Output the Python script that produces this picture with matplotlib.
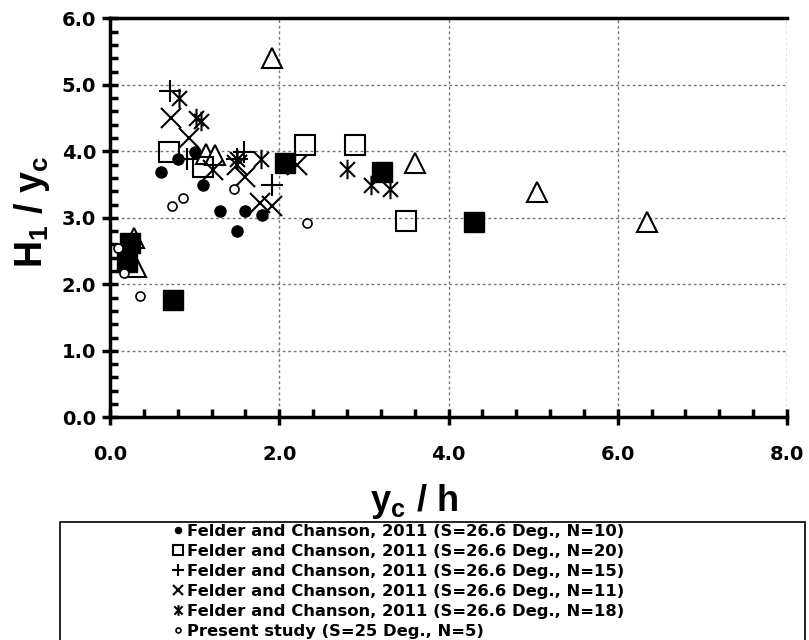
import matplotlib
matplotlib.use('Agg')
import numpy as np
from matplotlib import pyplot as plt
from matplotlib.path import Path
from matplotlib.patches import Rectangle
from matplotlib.ticker import MultipleLocator, FormatStrFormatter

# Felder and Chanson 2011, N=10 (filled circles)
x_n10 = [0.60, 0.80, 1.00, 1.10, 1.30, 1.50, 1.60, 1.80]
y_n10 = [3.69, 3.89, 3.99, 3.50, 3.10, 2.80, 3.10, 3.04]
# N=20 (open squares)
x_n20 = [0.70, 1.10, 2.30, 2.90, 3.50]
y_n20 = [3.99, 3.77, 4.09, 4.09, 2.95]
# N=15 (plus)
x_n15 = [0.71, 0.91, 1.50, 1.58, 1.91]
y_n15 = [4.90, 3.89, 3.89, 3.99, 3.49]
# N=11 (x)
x_n11 = [0.72, 0.93, 1.22, 1.50, 1.60, 1.77, 1.91, 2.21]
y_n11 = [4.50, 4.20, 3.72, 3.79, 3.62, 3.22, 3.17, 3.79]
# N=18 (asterisk)
x_n18 = [0.82, 1.02, 1.08, 1.50, 1.79, 2.80, 3.09, 3.31]
y_n18 = [4.80, 4.50, 4.45, 3.89, 3.89, 3.74, 3.49, 3.44]
# present study (open circles)
x_ps = [0.10, 0.16, 0.35, 0.73, 0.86, 1.46, 2.33]
y_ps = [2.54, 2.17, 1.82, 3.17, 3.30, 3.44, 2.92]
# series whose legend entries are cut off
x_tri = [0.28, 0.31, 1.14, 1.24, 1.92, 3.60, 5.04, 6.34]
y_tri = [2.69, 2.26, 3.96, 3.94, 5.40, 3.82, 3.39, 2.94]
x_fsq = [0.24, 0.20, 0.74, 2.07, 3.22, 4.30]
y_fsq = [2.62, 2.34, 1.76, 3.83, 3.69, 2.93]

labels = ['Felder and Chanson, 2011 (S=26.6 Deg., N=10)',
          'Felder and Chanson, 2011 (S=26.6 Deg., N=20)',
          'Felder and Chanson, 2011 (S=26.6 Deg., N=15)',
          'Felder and Chanson, 2011 (S=26.6 Deg., N=11)',
          'Felder and Chanson, 2011 (S=26.6 Deg., N=18)',
          'Present study (S=25 Deg., N=5)']

plt.rcParams['font.family'] = ['DejaVu Sans']
plt.rcParams['font.weight'] = 'bold'
plt.rcParams['mathtext.fontset'] = 'custom'
plt.rcParams['mathtext.rm'] = 'Liberation Sans:bold'
plt.rcParams['mathtext.bf'] = 'Liberation Sans:bold'
plt.rcParams['mathtext.it'] = 'Liberation Sans:bold'

# x with a vertical bar, like the spreadsheet asterisk
star = Path([(-1, -1), (1, 1), (-1, 1), (1, -1), (0, -1.3), (0, 1.3)],
            [Path.MOVETO, Path.LINETO, Path.MOVETO, Path.LINETO, Path.MOVETO, Path.LINETO])

fig = plt.figure(figsize=(8.09, 6.4), dpi=100)
ax = fig.add_axes([110 / 809, 1 - 417.3 / 640, 677 / 809, 399 / 640])

ax.plot(x_tri, y_tri, ls='none', marker='^', ms=14, mfc='white', mec='black', mew=1.5, zorder=3)
ax.plot(x_fsq, y_fsq, ls='none', marker='s', ms=14, mfc='black', mec='black', zorder=3)
h1, = ax.plot(x_n10, y_n10, ls='none', marker='o', ms=8, mfc='black', mec='black', zorder=4)
h2, = ax.plot(x_n20, y_n20, ls='none', marker='s', ms=14, mfc='none', mec='black', mew=1.5, zorder=4)
h3, = ax.plot(x_n15, y_n15, ls='none', marker='+', ms=16, mec='black', mew=1.5, zorder=4)
h4, = ax.plot(x_n11, y_n11, ls='none', marker='x', ms=14, mec='black', mew=1.5, zorder=4)
h5, = ax.plot(x_n18, y_n18, ls='none', marker=star, ms=14, mec='black', mew=1.5, zorder=4)
h6, = ax.plot(x_ps, y_ps, ls='none', marker='o', ms=6.5, mfc='white', mec='black', mew=1.2, zorder=4)

ax.set_xlim(0, 8)
ax.set_ylim(0, 6)
ax.xaxis.set_major_locator(MultipleLocator(2))
ax.xaxis.set_minor_locator(MultipleLocator(0.4))
ax.yaxis.set_major_locator(MultipleLocator(1))
ax.yaxis.set_minor_locator(MultipleLocator(0.2))
ax.xaxis.set_major_formatter(FormatStrFormatter('%.1f'))
ax.yaxis.set_major_formatter(FormatStrFormatter('%.1f'))
ax.grid(True, which='major', ls=(0, (2, 2)), color='#777777', lw=1.0)
ax.set_axisbelow(True)

for s in ['left', 'bottom', 'top']:
	ax.spines[s].set_linewidth(2.5)
ax.spines['right'].set_visible(False)

ax.tick_params(which='major', direction='inout', length=12, width=2.5, labelsize=14, pad=4)
ax.tick_params(which='minor', direction='in', length=6, width=2.5)
ax.tick_params(axis='x', which='major', pad=14)
for t in ax.get_xticklabels() + ax.get_yticklabels():
	t.set_fontweight('bold')

ax.set_xlabel(r'$\mathrm{y_c\ /\ h}$', fontsize=26)
ax.set_ylabel(r'$\mathrm{H_1\ /\ y_c}$', fontsize=27)
ax.xaxis.set_label_coords(0.449, -0.163)
ax.yaxis.set_label_coords(-0.086, 0.515)

fig.patches.append(Rectangle((60 / 809, -0.05), 745 / 809, 1 - 522 / 640 + 0.05,
                             transform=fig.transFigure, fill=False, ec='black', lw=1.2))
fig.legend([h1, h2, h3, h4, h5, h6], labels, loc='upper left',
           bbox_to_anchor=(162 / 809, 1 - 516 / 640), frameon=False,
           prop={'size': 11.8, 'weight': 'bold'}, markerscale=0.55,
           handletextpad=0.15, handlelength=0.9, labelspacing=0.3, borderpad=0)

fig.savefig('out.png', dpi=100)
